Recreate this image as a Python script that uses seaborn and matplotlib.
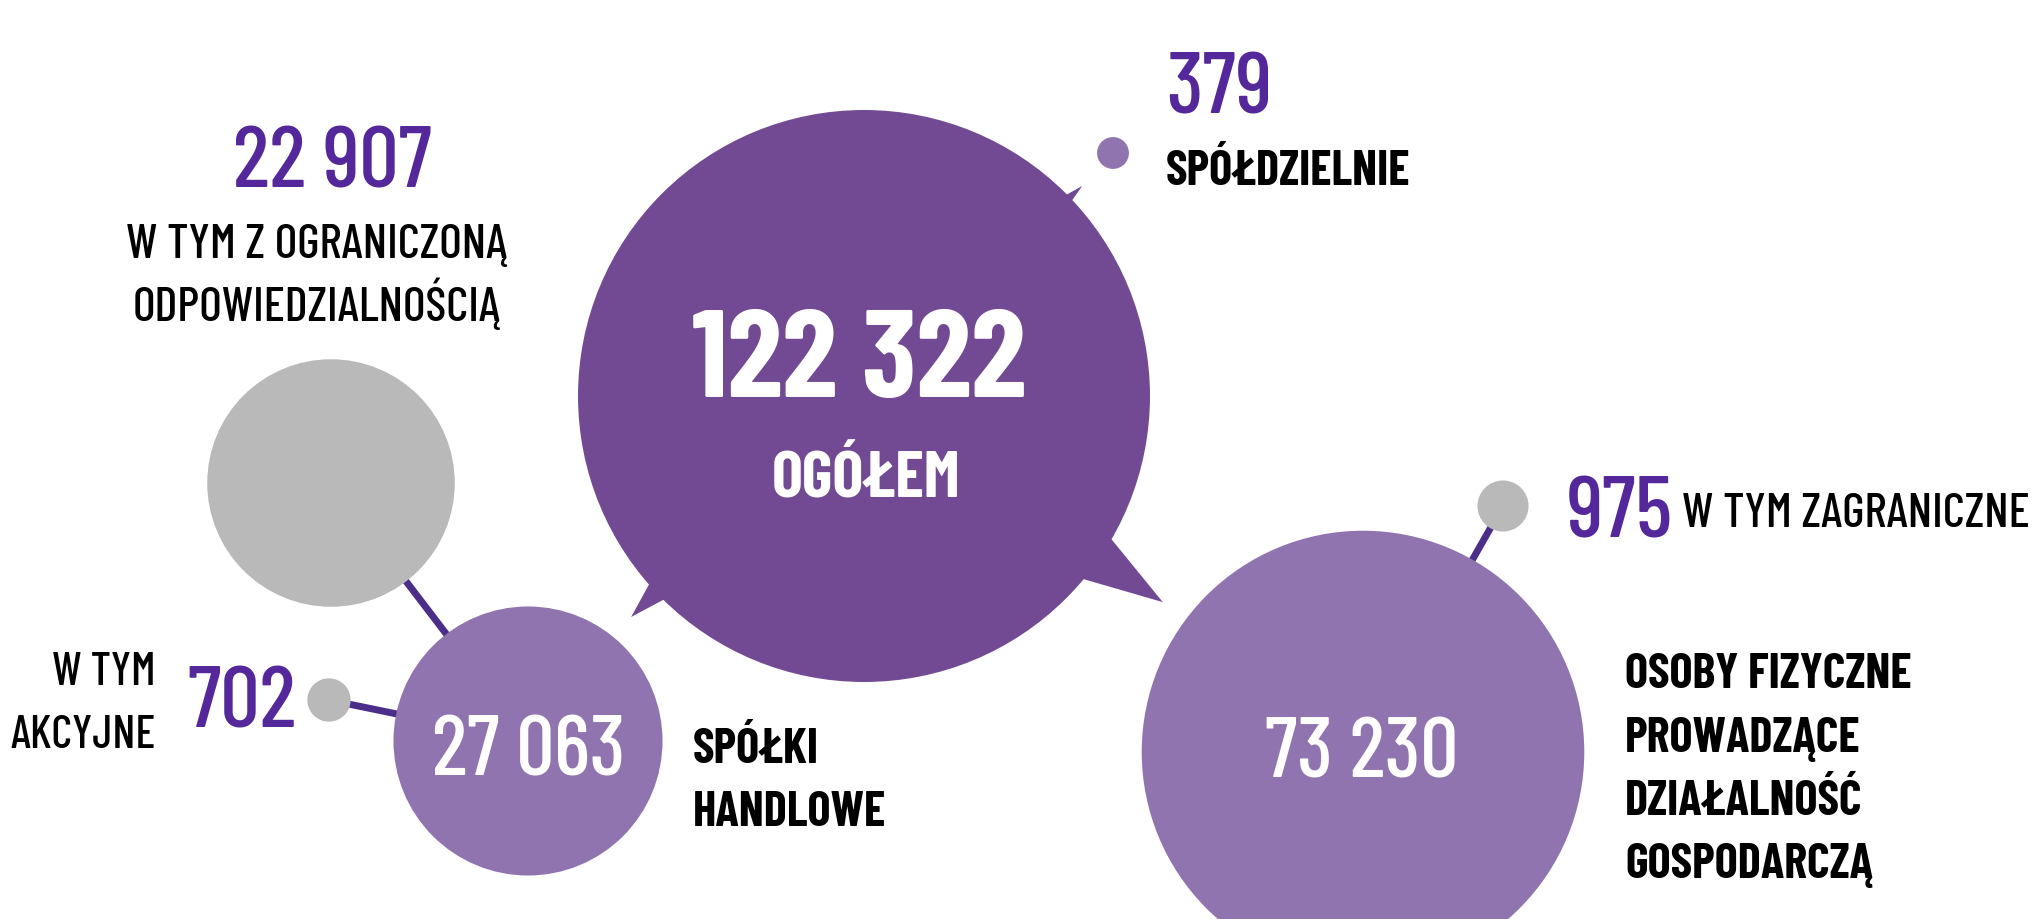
import numpy as np
import pandas as pd
import matplotlib.pyplot as plt
import seaborn as sns

# values (liczba podmiotów)
groups = ['ogolem', 'spolki_handlowe', 'osoby_fizyczne', 'z_o_o', 'akcyjne', 'zagraniczne', 'spoldzielnie']
values = [122322, 27063, 73230, 22907, 702, 975, 379]
captions = [
    ['OGÓŁEM'],
    ['SPÓŁKI', 'HANDLOWE'],
    ['OSOBY FIZYCZNE', 'PROWADZĄCE', 'DZIAŁALNOŚĆ', 'GOSPODARCZĄ'],
    ['W TYM Z OGRANICZONĄ', 'ODPOWIEDZIALNOŚCIĄ'],
    ['W TYM', 'AKCYJNE'],
    ['W TYM ZAGRANICZNE'],
    ['SPÓŁDZIELNIE'],
]
parents = [None, 'ogolem', 'ogolem', 'spolki_handlowe', 'spolki_handlowe', 'osoby_fizyczne', 'ogolem']

# layout (pixels, y down)
cx = [864, 528, 1363, 331, 329, 1503, 1113]
cy = [396, 741, 752, 483, 700, 506, 153]
colors = {'ogolem': '#724A94', 'spolki_handlowe': '#8F74B0', 'osoby_fizyczne': '#8F74B0',
          'z_o_o': '#B9B9B9', 'akcyjne': '#B9B9B9', 'zagraniczne': '#B9B9B9', 'spoldzielnie': '#8F74B0'}
num_color = '#54289A'
line_color = '#4B2E8A'
R_MAX = 286  # radius of the biggest bubble in px

W, H, DPI = 2041, 919, 100
sns.set_style('white')
plt.rcParams['font.family'] = ['Barlow Condensed', 'DejaVu Sans']

df = pd.DataFrame({'group': groups, 'value': values, 'x': cx, 'y': cy})
df['label'] = df['value'].map(lambda v: f'{v:,}'.replace(',', ' '))
df['r'] = R_MAX * np.sqrt(df['value'] / df['value'].max())

fig = plt.figure(figsize=(W / DPI, H / DPI), dpi=DPI)
ax = fig.add_axes([0, 0, 1, 1])

# connector lines (centre to centre, under the bubbles)
pos = df.set_index('group')
for g, p in zip(groups, parents):
    if p is None or p == 'ogolem':
        continue
    ax.plot([pos.loc[g, 'x'], pos.loc[p, 'x']], [pos.loc[g, 'y'], pos.loc[p, 'y']],
            color=line_color, lw=5, zorder=1, solid_capstyle='butt')

# speech-bubble tails of the big bubble, pointing at its children
tails = [(-45.3, -42.9, -43.9, 303), (134.0, 139.4, 136.5, 321), (29.4, 40.6, 34.6, 363)]
r0 = pos.loc['ogolem', 'r']
for a1, a2, at, d in tails:
    a1, a2, at = np.radians([a1, a2, at])
    px = [pos.loc['ogolem', 'x'] + 0.97 * r0 * np.cos(a1),
          pos.loc['ogolem', 'x'] + d * np.cos(at),
          pos.loc['ogolem', 'x'] + 0.97 * r0 * np.cos(a2)]
    py = [pos.loc['ogolem', 'y'] + 0.97 * r0 * np.sin(a1),
          pos.loc['ogolem', 'y'] + d * np.sin(at),
          pos.loc['ogolem', 'y'] + 0.97 * r0 * np.sin(a2)]
    ax.fill(px, py, color=colors['ogolem'], lw=0, zorder=2)

# bubbles: area proportional to value
s_max = (2 * R_MAX * 72 / DPI) ** 2
sns.scatterplot(data=df, x='x', y='y', hue='group', palette=colors, size='value',
                sizes=(0, s_max), size_norm=(0, df['value'].max()),
                linewidth=0, legend=False, ax=ax, zorder=3)

# numbers: (colour, x, baseline, ha, size, weight)
num_layout = {
    'ogolem': ('white', 859, 397, 'center', 90, 'bold'),
    'spolki_handlowe': ('white', 529, 775, 'center', 61, 500),
    'osoby_fizyczne': ('white', 1362, 778, 'center', 61, 500),
    'z_o_o': (num_color, 332, 187, 'center', 63, 500),
    'akcyjne': (num_color, 187, 728, 'left', 63, 500),
    'zagraniczne': (num_color, 1567, 538, 'left', 63, 500),
    'spoldzielnie': (num_color, 1166, 113, 'left', 63, 500),
}
# captions: (colour, x, first baseline, ha, size, weight)
cap_layout = {
    'ogolem': ('white', 866, 498, 'center', 47, 'bold'),
    'spolki_handlowe': ('black', 693, 763, 'left', 35, 'bold'),
    'osoby_fizyczne': ('black', 1625, 688, 'left', 35, 'bold'),
    'z_o_o': ('black', 317, 258, 'center', 35, 500),
    'akcyjne': ('black', 156, 685, 'right', 33, 500),
    'zagraniczne': ('black', 1682, 527, 'left', 35, 500),
    'spoldzielnie': ('black', 1166, 185, 'left', 35, 'bold'),
}
LINE_GAP = 63.5

for g, lab, cap in zip(groups, df['label'], captions):
    c, x, y, ha, fs, fw = num_layout[g]
    ax.text(x, y, lab, color=c, ha=ha, va='baseline', fontsize=fs, fontweight=fw, zorder=5)
    c, x, y, ha, fs, fw = cap_layout[g]
    for i, line in enumerate(cap):
        ax.text(x, y + i * LINE_GAP, line, color=c, ha=ha, va='baseline',
                fontsize=fs, fontweight=fw, zorder=5)

ax.set_xlim(0, W)
ax.set_ylim(H, 0)
ax.axis('off')
fig.savefig('out.png', dpi=DPI)
